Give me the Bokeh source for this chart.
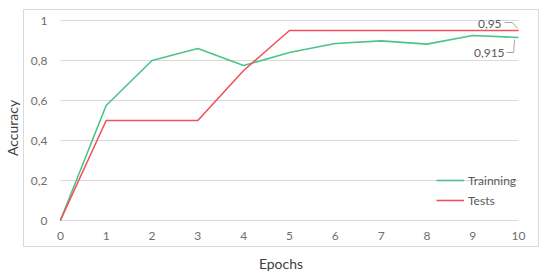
from bokeh.plotting import figure
from bokeh.models import (Range1d, FixedTicker, Legend, LegendItem, Label,
                          LinearAxis, ColumnDataSource)
from bokeh.embed import file_html
from bokeh.resources import INLINE

epochs = [0, 1, 2, 3, 4, 5, 6, 7, 8, 9, 10]
training = [0, 0.575, 0.80, 0.86, 0.775, 0.84, 0.885, 0.898, 0.882, 0.925, 0.915]
tests = [0, 0.5, 0.5, 0.5, 0.75, 0.95, 0.95, 0.95, 0.95, 0.95, 0.95]
y_ticks = [0, 0.2, 0.4, 0.6, 0.8, 1]
y_tick_labels = ["0", "0,2", "0,4", "0,6", "0,8", "1"]
x_ticks = epochs
end_labels = ["0,95", "0,915"]

GREEN = "#4cc38a"
RED = "#f0525c"
GRID = "#d9d9d9"
FONT = "Lato"

# pixel scale of the plot area: 46 px per epoch, 200 px per unit accuracy
PX_X = 1 / 46
PX_Y = 1 / 200

p = figure(width=550, height=277, output_backend="svg", toolbar_location=None,
           x_range=Range1d(epochs[0] - 37 * PX_X, epochs[-1] + 20 * PX_X),
           y_range=Range1d(y_ticks[0] - 26 * PX_Y, y_ticks[-1] + 11 * PX_Y),
           min_border_left=21, min_border_right=12,
           min_border_top=9, min_border_bottom=31)
p.outline_line_color = GRID
p.outline_line_width = 1
p.background_fill_color = "white"
p.border_fill_color = "white"
p.xgrid.visible = False
p.ygrid.visible = False

# horizontal gridlines spanning the epoch extent
p.segment(x0=[epochs[0]] * len(y_ticks), x1=[epochs[-1]] * len(y_ticks),
          y0=y_ticks, y1=y_ticks, line_color=GRID, line_width=1)

main_x = p.xaxis[0]
main_y = p.yaxis[0]
main_x.fixed_location = 0
main_y.fixed_location = 0
main_x.ticker = FixedTicker(ticks=x_ticks)
main_y.ticker = FixedTicker(ticks=y_ticks)
main_y.major_label_overrides = {t: l for t, l in zip(y_ticks, y_tick_labels)}
main_x.major_label_standoff = 11
main_y.major_label_standoff = 13

title_x = LinearAxis(ticker=FixedTicker(ticks=[]), axis_label="Epochs")
title_y = LinearAxis(ticker=FixedTicker(ticks=[]), axis_label="Accuracy")
p.add_layout(title_x, "below")
p.add_layout(title_y, "left")
title_x.axis_label_standoff = 8
title_y.axis_label_standoff = 3

for ax in (main_x, main_y, title_x, title_y):
    ax.axis_line_color = None
    ax.major_tick_line_color = None
    ax.minor_tick_line_color = None
    ax.major_tick_out = 0
    ax.major_tick_in = 0
    ax.minor_tick_out = 0
    ax.major_label_text_font = FONT
    ax.major_label_text_font_size = "12px"
    ax.major_label_text_color = "#6e6e6e"
    ax.axis_label_text_font = FONT
    ax.axis_label_text_font_size = "14px"
    ax.axis_label_text_font_style = "normal"
    ax.axis_label_text_color = "#404040"

src = ColumnDataSource(dict(x=epochs, train=training, test=tests))
r_train = p.line("x", "train", source=src, line_color=GREEN, line_width=1.6)
r_test = p.line("x", "test", source=src, line_color=RED, line_width=1.6)


def leader(xv, yv, pts):
    xs = [xv + dx * PX_X for dx, dy in pts]
    ys = [yv - dy * PX_Y for dx, dy in pts]
    p.line(xs, ys, line_color="#a6a6a6", line_width=1)


last_x = epochs[-1]
v_test = tests[-1]
v_train = training[-1]
leader(last_x, v_test, [(-1, -2), (-6, -8), (-14, -8)])
leader(last_x, v_train, [(-4, 2), (-5, 15), (-12, 15)])
p.add_layout(Label(x=last_x, y=v_test, text=end_labels[0], x_offset=-17, y_offset=7,
                   text_align="right", text_baseline="middle",
                   text_font=FONT, text_font_size="12px", text_color="#595959"))
p.add_layout(Label(x=last_x, y=v_train, text=end_labels[1], x_offset=-14, y_offset=-15,
                   text_align="right", text_baseline="middle",
                   text_font=FONT, text_font_size="12px", text_color="#595959"))

legend = Legend(items=[LegendItem(label="Trainning", renderers=[r_train]),
                       LegendItem(label="Tests", renderers=[r_test])],
                location=(413, 36), padding=0, margin=0, spacing=0,
                glyph_width=28, glyph_height=20, label_height=20,
                label_standoff=4, border_line_color=None,
                background_fill_alpha=0,
                label_text_font=FONT, label_text_font_size="12px",
                label_text_color="#595959")
p.add_layout(legend)

open("out.html", "w").write(file_html(p, INLINE))
